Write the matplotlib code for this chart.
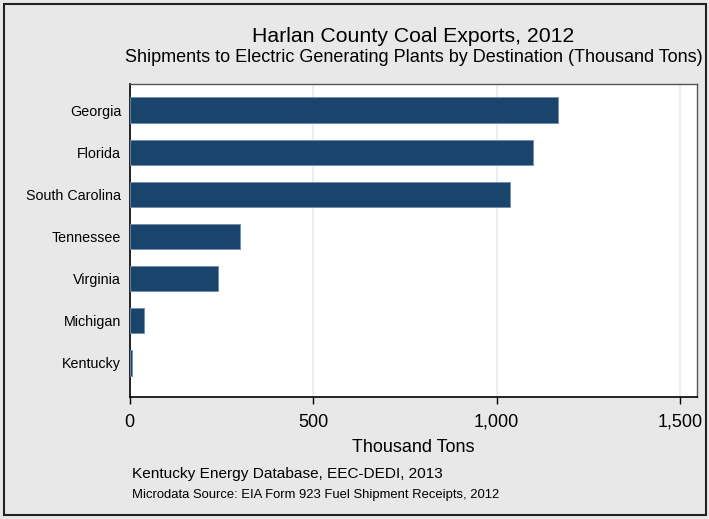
import matplotlib
matplotlib.use("Agg")
import matplotlib.pyplot as plt
from matplotlib.ticker import FuncFormatter
from matplotlib.patches import Rectangle

plt.rcParams['font.family'] = ['Liberation Sans', 'DejaVu Sans']

states = ["Georgia", "Florida", "South Carolina", "Tennessee", "Virginia", "Michigan", "Kentucky"]
values = [1168, 1099, 1037, 301, 241, 40, 7]
xticks = [0, 500, 1000, 1500]

W, H = 709, 519
fig = plt.figure(figsize=(W / 100, H / 100), dpi=100)
fig.patch.set_facecolor("#e8e8e8")
fig.patches.append(Rectangle((4 / W, 4 / H), 702 / W, 511 / H, transform=fig.transFigure,
                             fill=False, edgecolor="#222222", linewidth=1.5))

left, right, top, bottom = 129.5, 697, 84, 397
ax = fig.add_axes([left / W, 1 - bottom / H, (right - left) / W, (bottom - top) / H])
ax.set_facecolor("white")

ypos = list(range(len(states) - 1, -1, -1))
ax.barh(ypos, values, height=0.6, color="#1a446c", edgecolor="#6f8fae", linewidth=0.6, zorder=3)
ax.set_yticks(ypos)
ax.set_yticklabels(states, fontsize=10.3)
ax.tick_params(axis='y', length=0, pad=6)
ax.set_ylim(-0.81, 6.62)
ax.set_xlim(0, 1546)
ax.set_xticks(xticks)
ax.xaxis.set_major_formatter(FuncFormatter(lambda v, p: f"{int(v):,}"))
ax.tick_params(axis='x', labelsize=13, length=5, width=1, pad=7, direction='out')
ax.grid(axis='x', color="#e3ecf0", linewidth=1.2, zorder=0)
for s in ["left", "bottom"]:
    ax.spines[s].set_color("black")
    ax.spines[s].set_linewidth(1.2)
for s in ["top", "right"]:
    ax.spines[s].set_color("#555555")
    ax.spines[s].set_linewidth(1.0)

fig.text(413 / W, 1 - 42 / H, "Harlan County Coal Exports, 2012", ha='center', va='baseline', fontsize=15.3)
fig.text(414 / W, 1 - 62 / H, "Shipments to Electric Generating Plants by Destination (Thousand Tons)",
         ha='center', va='baseline', fontsize=13)
fig.text(413 / W, 1 - 452 / H, "Thousand Tons", ha='center', va='baseline', fontsize=13)
fig.text(132 / W, 1 - 478 / H, "Kentucky Energy Database, EEC-DEDI, 2013", ha='left', va='baseline', fontsize=11.1)
fig.text(132 / W, 1 - 498 / H, "Microdata Source: EIA Form 923 Fuel Shipment Receipts, 2012", ha='left', va='baseline', fontsize=9.4)

fig.savefig("out.png", dpi=100, facecolor=fig.get_facecolor())
